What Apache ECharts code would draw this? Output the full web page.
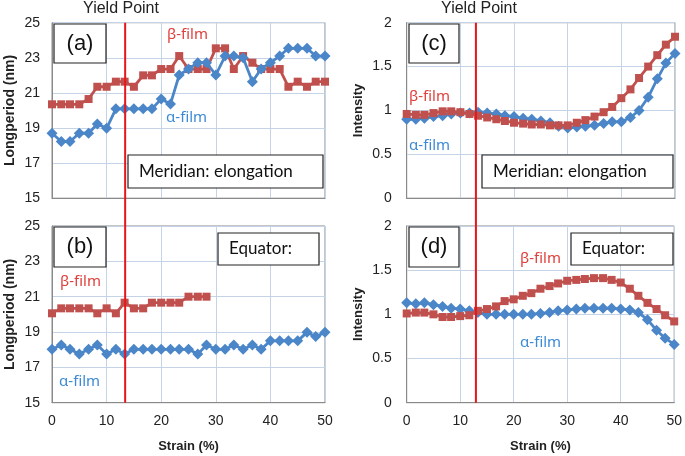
<!DOCTYPE html>
<html><head><meta charset="utf-8">
<script src="https://cdn.jsdelivr.net/npm/echarts@6/dist/echarts.min.js"></script>
<style>html,body{margin:0;padding:0;background:#fff}#c{width:685px;height:456px}</style>
</head><body><div id="c"></div>
<script>
// Strain (%) sample positions
const strain = [0,1.7,3.3,5,6.7,8.3,10,11.7,13.3,15,16.7,18.3,20,21.7,23.3,25,26.7,28.3,30,31.7,33.3,35,36.7,38.3,40,41.7,43.3,45,46.7,48.3,50];
// (a) Meridian long period (nm)
const aBeta  = [20.35,20.35,20.35,20.35,20.65,21.35,21.35,21.64,21.64,21.35,22.0,22.0,22.36,22.36,23.1,22.36,22.36,22.36,23.54,23.54,22.36,23.1,22.72,22.36,22.36,22.36,21.35,21.64,21.35,21.64,21.64];
const aAlpha = [18.7,18.23,18.23,18.7,18.7,19.23,18.98,20.09,20.09,20.09,20.09,20.09,20.65,20.37,22.02,22.36,22.72,22.72,22.02,23.1,23.1,23.0,21.64,22.36,22.72,23.1,23.54,23.54,23.54,23.1,23.1];
// (b) Equator long period (nm)
const bBeta  = [20.06,20.34,20.34,20.34,20.34,20.06,20.34,20.06,20.66,20.34,20.34,20.66,20.66,20.66,20.66,21.0,21.0,21.0];
const bAlpha = [18.02,18.26,18.02,17.75,18.02,18.26,17.75,18.02,17.75,18.02,18.02,18.02,18.02,18.02,18.02,18.02,17.75,18.26,18.02,18.02,18.26,18.02,18.26,18.02,18.5,18.5,18.5,18.5,18.98,18.74,18.98];
// (c) Meridian intensity
const cBeta  = [0.96,0.95,0.95,0.97,0.99,0.99,0.98,0.96,0.94,0.92,0.90,0.88,0.86,0.85,0.84,0.84,0.83,0.83,0.83,0.86,0.89,0.93,0.98,1.04,1.14,1.24,1.37,1.50,1.63,1.75,1.84];
const cAlpha = [0.90,0.90,0.91,0.93,0.94,0.96,0.97,0.97,0.98,0.97,0.96,0.94,0.93,0.91,0.90,0.88,0.86,0.82,0.80,0.81,0.82,0.83,0.85,0.87,0.87,0.92,1.00,1.15,1.36,1.54,1.65];
// (d) Equator intensity
const dBeta  = [1.01,1.02,1.02,1.00,0.97,0.97,0.98,0.99,1.04,1.06,1.09,1.15,1.17,1.21,1.24,1.29,1.32,1.35,1.38,1.39,1.40,1.41,1.41,1.39,1.36,1.29,1.21,1.13,1.06,0.99,0.92];
const dAlpha = [1.13,1.12,1.13,1.11,1.09,1.07,1.06,1.04,1.02,1.00,1.00,1.00,1.00,1.00,1.00,1.01,1.02,1.04,1.05,1.06,1.07,1.07,1.07,1.07,1.06,1.05,1.02,0.94,0.82,0.73,0.66];
// Yield point strain (%)
const yieldLeft = 13.4, yieldRight = 12.9;

const RED = '#C0504D', BLUE = '#4A86C8', YIELD = '#E8151B';
const pairs = (xs, ys) => ys.map((v, i) => [xs[i], v]);

const grids = [
  {left: 52, top: 22.7, width: 273, height: 175.5},
  {left: 52, top: 226, width: 273, height: 176.7},
  {left: 406.7, top: 22.7, width: 268.3, height: 175.5},
  {left: 406.7, top: 226, width: 268.3, height: 176.7},
  {left: 52, top: 22.7, width: 273, height: 380},
  {left: 406.7, top: 22.7, width: 268.3, height: 380}
].map((g, i) => Object.assign({show: i < 4, borderColor: '#8a8a8a', borderWidth: 1, backgroundColor: 'transparent'}, g));

const tickFont = 'Liberation Sans, Arial, sans-serif';
function xAx(i, bottom) {
  return {gridIndex: i, type: 'value', min: 0, max: 50, interval: 10,
    axisLine: {show: true, onZero: false, lineStyle: {color: '#8a8a8a'}}, axisTick: {show: false},
    axisLabel: {show: bottom, fontSize: 14, color: '#222', margin: 11, fontFamily: tickFont},
    splitLine: {show: true, lineStyle: {color: '#c4d3e6', width: 1}},
    name: bottom ? 'Strain (%)' : '', nameLocation: 'middle', nameGap: 37,
    nameTextStyle: {fontSize: 13, fontWeight: 'bold', color: '#222', fontFamily: tickFont}};
}
function yAx(i, lp) {
  return {gridIndex: i, type: 'value', min: lp ? 15 : 0, max: lp ? 25 : 2, interval: lp ? 2 : 0.5,
    axisLine: {show: true, lineStyle: {color: '#8a8a8a'}}, axisTick: {show: false},
    axisLabel: {fontSize: 14, color: '#222', margin: lp ? 12 : 15, fontFamily: tickFont},
    splitLine: {show: true, lineStyle: {color: '#c4d3e6', width: 1}},
    name: lp ? 'Longperiod (nm)' : 'Intensity', nameLocation: 'middle', nameGap: lp ? 35 : 42, nameRotate: 90,
    nameTextStyle: {fontSize: lp ? 14 : 13, fontWeight: 'bold', color: '#222', fontFamily: tickFont}};
}
function ser(i, xs, ys, beta, z) {
  return {type: 'line', xAxisIndex: i, yAxisIndex: i, data: pairs(xs, ys), z: z,
    symbol: beta ? 'rect' : 'diamond', symbolSize: beta ? 8 : 11, showSymbol: true,
    lineStyle: {color: beta ? RED : BLUE, width: 2.8}, itemStyle: {color: beta ? RED : BLUE},
    silent: true, animation: false};
}
function yieldSer(i, x) {
  return {type: 'line', xAxisIndex: i, yAxisIndex: i, data: [[x, 0], [x, 1]], symbol: 'none', z: 10,
    lineStyle: {color: YIELD, width: 2}, silent: true, animation: false};
}

const annoFont = '"Noto Sans", "Open Sans", sans-serif';
const boxFont = 'Lato, "Noto Sans", sans-serif';
const graphic = [];
function box(x, y, w, h) {
  graphic.push({type: 'rect', shape: {x: x, y: y, width: w, height: h}, z: 20,
    style: {fill: '#fff', stroke: '#222', lineWidth: 1.2}});
}
function txt(x, y, t, font, color, align) {
  graphic.push({type: 'text', x: x, y: y, z: 21,
    style: {text: t, font: font, fill: color, align: align || 'left', verticalAlign: 'middle'}});
}
// panel tags
box(54, 24, 52, 39); txt(80, 44, '(a)', '22px Liberation Sans', '#111', 'center');
box(54, 227, 52, 40); txt(80, 247, '(b)', '22px Liberation Sans', '#111', 'center');
box(409, 24, 50, 39); txt(434, 44, '(c)', '22px Liberation Sans', '#111', 'center');
box(409, 227, 50, 40); txt(434, 247, '(d)', '22px Liberation Sans', '#111', 'center');
// descriptions
box(128, 155, 195, 33); txt(139, 172, 'Meridian: elongation', '17px ' + boxFont, '#111');
box(482, 155, 191, 33); txt(493, 172, 'Meridian: elongation', '17px ' + boxFont, '#111');
box(218, 233, 101, 32); txt(229, 249, 'Equator:', '17px ' + boxFont, '#111');
box(571, 233, 102, 32); txt(582, 249, 'Equator:', '17px ' + boxFont, '#111');
// film labels
const LRED = '#E0403C', LBLUE = '#3C8AD6';
txt(167, 35, 'β-film', '15px ' + annoFont, LRED);
txt(166, 118, 'α-film', '15px ' + annoFont, LBLUE);
txt(60, 282, 'β-film', '15px ' + annoFont, LRED);
txt(59, 382, 'α-film', '15px ' + annoFont, LBLUE);
txt(409, 97, 'β-film', '15px ' + annoFont, LRED);
txt(409, 146, 'α-film', '15px ' + annoFont, LBLUE);
txt(520, 259, 'β-film', '15px ' + annoFont, LRED);
txt(520, 343, 'α-film', '15px ' + annoFont, LBLUE);
// yield point titles
txt(121, 8.5, 'Yield Point', '16px Liberation Sans', '#222', 'center');
txt(479, 8.5, 'Yield Point', '16px Liberation Sans', '#222', 'center');

const hiddenX = i => ({gridIndex: i, type: 'value', min: 0, max: 50, show: false});
const hiddenY = i => ({gridIndex: i, type: 'value', min: 0, max: 1, show: false});

const chart = echarts.init(document.getElementById('c'), null, {renderer: 'canvas'});
chart.setOption({
  animation: false,
  backgroundColor: '#fff',
  grid: grids,
  xAxis: [xAx(0, false), xAx(1, true), xAx(2, false), xAx(3, true), hiddenX(4), hiddenX(5)],
  yAxis: [yAx(0, true), yAx(1, true), yAx(2, false), yAx(3, false), hiddenY(4), hiddenY(5)],
  series: [
    ser(0, strain, aBeta, true, 2), ser(0, strain, aAlpha, false, 3),
    ser(1, strain, bBeta, true, 2), ser(1, strain, bAlpha, false, 3),
    ser(2, strain, cAlpha, false, 2), ser(2, strain, cBeta, true, 3),
    ser(3, strain, dAlpha, false, 2), ser(3, strain, dBeta, true, 3),
    yieldSer(4, yieldLeft), yieldSer(5, yieldRight)
  ],
  graphic: graphic
});
</script></body></html>
